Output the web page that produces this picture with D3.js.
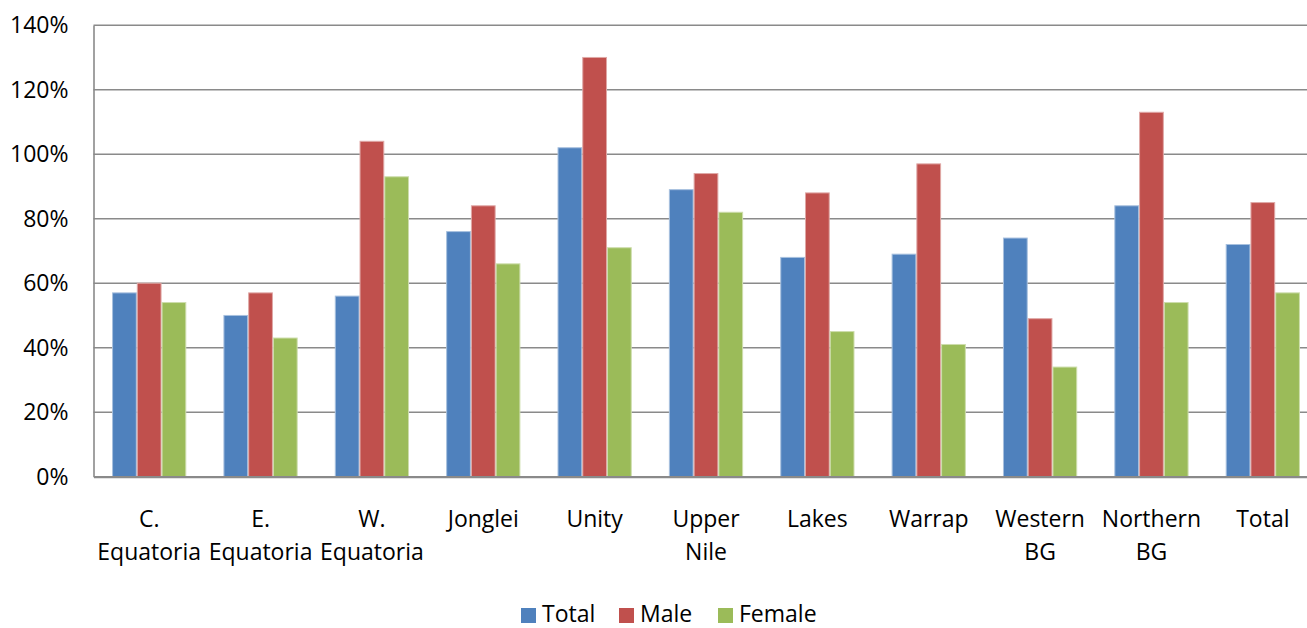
<!DOCTYPE html>
<html>
<head>
<meta charset="utf-8">
<script src="https://cdn.jsdelivr.net/npm/d3@7/dist/d3.min.js"></script>
<style>
  html, body { margin: 0; padding: 0; background: #fff; overflow: hidden; }
  svg { display: block; font-family: "Open Sans", sans-serif; }
</style>
</head>
<body>
<svg id="chart" width="1307" height="628"></svg>
<script>
const categories = ["C. Equatoria", "E. Equatoria", "W. Equatoria", "Jonglei", "Unity", "Upper Nile", "Lakes", "Warrap", "Western BG", "Northern BG", "Total"];
const categoryLines = [["C.", "Equatoria"], ["E.", "Equatoria"], ["W.", "Equatoria"], ["Jonglei"], ["Unity"], ["Upper", "Nile"], ["Lakes"], ["Warrap"], ["Western", "BG"], ["Northern", "BG"], ["Total"]];
const seriesNames = ["Total", "Male", "Female"];
const totalValues  = [57, 50, 56, 76, 102, 89, 68, 69, 74, 84, 72];
const maleValues   = [60, 57, 104, 84, 130, 94, 88, 97, 49, 113, 85];
const femaleValues = [54, 43, 93, 66, 71, 82, 45, 41, 34, 54, 57];
const yTicks = [0, 20, 40, 60, 80, 100, 120, 140];
const colors = ["#4F81BD", "#C0504D", "#9BBB59"];
const strokes = ["#A7C0DE", "#DFA8A6", "#CDDDAC"];

const seriesValues = [totalValues, maleValues, femaleValues];
const data = categories.map((c, i) => ({cat: c, vals: seriesNames.map((s, j) => ({series: s, j, v: seriesValues[j][i]}))}));

const svg = d3.select("#chart");
const plotLeft = 93.5, plotRight = 1318.5, plotTop = 25.2, plotBottom = 476.7;
const fontSize = 23;

const x0 = d3.scaleBand().domain(categories).range([plotLeft, plotRight]).paddingInner(1/3).paddingOuter(1/6);
const x1 = d3.scaleBand().domain(seriesNames).range([0, x0.bandwidth()]);
const y = d3.scaleLinear().domain([0, 140]).range([plotBottom, plotTop]);

// gridlines
svg.append("g").selectAll("line").data(yTicks.filter(d => d > 0)).join("line")
  .attr("x1", plotLeft).attr("x2", 1307)
  .attr("y1", d => y(d)).attr("y2", d => y(d))
  .attr("stroke", "#8A8A8A").attr("stroke-width", 1.6);

// bars
const groups = svg.append("g").selectAll("g").data(data).join("g")
  .attr("transform", d => `translate(${x0(d.cat)},0)`);
groups.selectAll("rect").data(d => d.vals).join("rect")
  .attr("x", d => x1(d.series) + 0.5)
  .attr("width", x1.bandwidth() - 1)
  .attr("y", d => y(d.v))
  .attr("height", d => y(0) - y(d.v))
  .attr("fill", d => colors[d.j])
  .attr("stroke", d => strokes[d.j])
  .attr("stroke-width", 1);

// y axis
const yAxis = svg.append("g").attr("transform", `translate(${plotLeft},0)`)
  .call(d3.axisLeft(y).tickValues(yTicks).tickFormat(d => d + "%").tickSize(0).tickPadding(25));
yAxis.select(".domain").attr("stroke", "#8A8A8A").attr("stroke-width", 1.6);
yAxis.selectAll("text").attr("font-size", fontSize).attr("fill", "#000").attr("font-family", "Open Sans");

// x axis
const xAxis = svg.append("g").attr("transform", `translate(0,${plotBottom})`)
  .call(d3.axisBottom(x0).tickSize(0).tickFormat(""));
xAxis.select(".domain").attr("stroke", "#8A8A8A").attr("stroke-width", 2.2);
xAxis.selectAll(".tick").each(function(d, i) {
  const t = d3.select(this).select("text").text(null)
    .attr("font-size", fontSize).attr("fill", "#000").attr("font-family", "Open Sans")
    .attr("y", 0).attr("dy", null);
  categoryLines[i].forEach((line, k) => {
    t.append("tspan").attr("x", 0).attr("y", 50 + k * 33).text(line);
  });
});

// legend
const legendX = [521, 619, 718];
const lg = svg.append("g").selectAll("g").data(seriesNames).join("g")
  .attr("transform", (d, i) => `translate(${legendX[i]},608)`);
lg.append("rect").attr("width", 15).attr("height", 15).attr("fill", (d, i) => colors[i]);
lg.append("text").attr("x", 21).attr("y", 14)
  .attr("font-size", fontSize).attr("fill", "#000").text(d => d);
</script>
</body>
</html>
